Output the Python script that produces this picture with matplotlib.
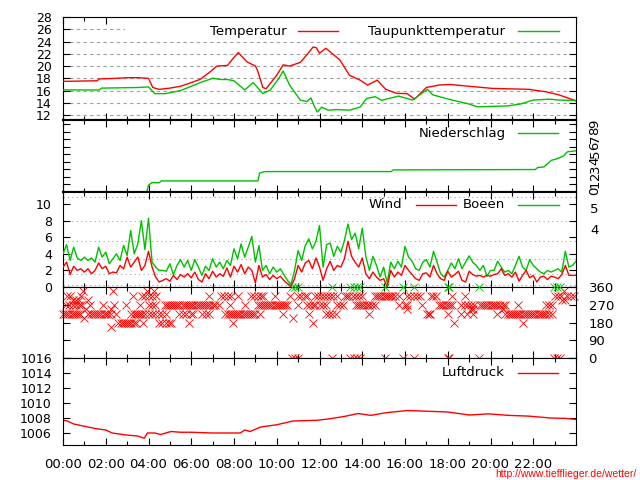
import matplotlib
matplotlib.use("Agg")
import matplotlib.pyplot as plt
from matplotlib.ticker import MultipleLocator, FixedLocator, FuncFormatter
from matplotlib.patches import Rectangle
from matplotlib.lines import Line2D
import numpy as np

RED = '#ff0000'
GREEN = '#00c000'
GRID = '#a0a0a0'

# --- data (hours since 00:00) ---
temp_h = [0.0, 1.6, 1.7, 2.5, 3.0, 3.5, 4.0, 4.2, 4.5, 5.0, 5.5, 6.0, 6.4, 6.9, 7.2,
          7.7, 7.9, 8.2, 8.6, 9.0, 9.1, 9.35, 9.5, 10.0, 10.3, 10.6, 11.1, 11.4, 11.7,
          11.85, 12.0, 12.3, 12.95, 13.4, 13.9, 14.25, 14.7, 15.1, 15.6, 16.1, 16.45,
          17.0, 17.6, 18.1, 19.0, 20.1, 21.8, 22.6, 23.2, 23.9, 24.0]
temp_v = [17.5, 17.6, 17.9, 18.0, 18.1, 18.1, 18.0, 16.5, 16.2, 16.4, 16.7, 17.3, 17.8,
          19.1, 20.0, 20.1, 21.0, 22.2, 20.7, 20.0, 19.3, 16.5, 16.3, 18.5, 20.2, 20.0,
          20.6, 21.8, 23.1, 23.0, 22.1, 22.9, 21.0, 18.5, 17.7, 16.9, 17.7, 16.2, 15.55,
          15.5, 14.6, 16.5, 16.9, 17.0, 16.7, 16.35, 16.2, 15.8, 15.3, 14.45, 14.3]

dew_h = [0.0, 1.7, 1.8, 3.5, 4.0, 4.3, 4.8, 5.5, 6.5, 7.0, 7.4, 7.7, 8.0, 8.5, 8.9,
         9.35, 9.7, 10.1, 10.3, 10.6, 11.1, 11.4, 11.6, 11.75, 11.9, 12.1, 12.4, 12.8,
         13.4, 13.9, 14.2, 14.6, 14.9, 15.7, 16.35, 17.05, 17.3, 18.2, 18.9, 19.4,
         20.8, 21.4, 22.0, 22.8, 23.2, 24.0]
dew_v = [16.1, 16.1, 16.4, 16.5, 16.6, 15.5, 15.5, 16.0, 17.4, 18.0, 17.8, 17.8, 17.6,
         16.1, 17.3, 15.5, 16.1, 18.0, 19.2, 16.9, 14.45, 14.2, 14.8, 13.5, 12.5, 13.3,
         12.8, 12.9, 12.8, 13.3, 14.7, 15.0, 14.4, 15.1, 14.45, 16.2, 15.3, 14.45, 13.9,
         13.35, 13.5, 13.8, 14.45, 14.6, 14.45, 14.4]

rain_h = [0.0, 3.92, 4.0, 4.15, 4.5, 4.6, 9.12, 9.2, 9.46, 15.35, 15.45, 22.1, 22.2,
          22.5, 22.85, 23.1, 23.4, 23.6, 24.0]
rain_v = [0.0, 0.0, 0.89, 1.24, 1.24, 1.47, 1.47, 2.53, 2.71, 2.71, 2.93, 2.98, 3.24,
          3.33, 4.2, 4.4, 4.75, 5.33, 5.47]

wind_h = np.arange(0, 24.01, 1 / 6)
gust_v = [4.0, 5.1, 3.2, 4.8, 3.5, 3.2, 3.6, 3.2, 3.5, 3.0, 4.8, 3.6,
          4.2, 2.8, 3.4, 4.0, 3.2, 5.0, 3.8, 6.8, 4.0, 5.2, 8.0, 4.5,
          8.3, 3.0, 2.4, 2.0, 2.0, 1.9, 2.8, 1.5, 2.6, 3.3, 2.4, 3.2,
          2.0, 3.3, 2.4, 1.4, 2.5, 2.0, 3.4, 2.4, 3.0, 2.2, 3.2, 2.6,
          4.6, 3.4, 5.2, 3.6, 4.8, 6.1, 3.0, 5.0, 2.0, 2.6, 1.6, 2.4,
          1.8, 2.2, 1.5, 0.8, 0.3, 2.0, 4.4, 3.2, 5.0, 5.8, 4.6, 5.5,
          7.4, 2.4, 5.1, 5.3, 3.7, 4.9, 4.2, 5.6, 7.6, 5.7, 6.5, 4.6,
          7.1, 3.7, 2.0, 3.7, 2.6, 1.2, 2.4, 0.5, 3.0, 2.2, 3.1, 2.4,
          4.9, 3.6, 3.1, 2.2, 2.0, 3.0, 3.3, 2.4, 4.3, 3.0, 1.6, 1.2,
          2.0, 2.9, 2.2, 3.4, 2.2, 3.0, 3.75, 3.0, 2.6, 2.0, 2.6, 1.3,
          2.0, 2.0, 3.1, 2.4, 1.8, 2.0, 1.6, 2.6, 3.7, 2.4, 2.0, 3.3,
          2.6, 2.2, 1.8, 1.6, 2.0, 1.8, 2.0, 2.2, 1.8, 4.3, 2.4, 2.6, 3.1]
wind_v = [2.4, 3.0, 1.5, 2.5, 2.0, 2.2, 1.8, 2.2, 1.6, 2.0, 2.9, 2.2,
          2.5, 1.6, 1.8, 1.7, 2.6, 2.2, 3.6, 2.4, 3.0, 3.6, 2.0, 2.6,
          4.3, 2.4, 1.2, 0.6, 0.8, 1.0, 0.7, 1.4, 0.9, 1.5, 1.2, 1.6,
          1.1, 1.8, 0.9, 0.6, 1.6, 1.0, 1.9, 1.2, 1.6, 1.3, 2.3, 1.2,
          2.5, 1.8, 2.7, 1.6, 2.4, 2.0, 0.5, 2.6, 1.2, 1.5, 0.9, 1.4,
          1.0, 1.3, 0.8, 0.4, 0.0, 1.0, 2.6, 1.8, 2.9, 3.2, 2.2, 3.5,
          2.4, 0.8, 2.2, 3.1, 2.0, 2.6, 2.4, 3.4, 5.5, 3.7, 3.0, 2.4,
          3.5, 1.6, 1.0, 1.8, 1.2, 0.8, 1.0, 0.0, 2.0, 1.2, 1.8, 1.4,
          2.6, 2.0, 1.5, 1.0, 0.8, 1.6, 1.7, 1.2, 2.6, 1.6, 1.0, 0.8,
          1.9, 1.2, 1.5, 1.9, 0.8, 0.6, 1.9, 1.5, 1.3, 1.4, 1.2, 1.4,
          1.3, 1.5, 1.6, 2.2, 1.4, 1.6, 1.2, 1.8, 0.7, 1.4, 2.0, 1.1,
          1.4, 0.6, 1.2, 1.3, 0.9, 1.3, 1.2, 1.0, 1.5, 2.6, 1.4, 1.4, 1.4]
bft_limits = [0.3, 1.6, 3.4, 5.5, 8.0, 10.8]
bft_labels = {4: 6.75, 5: 9.4}

# wind direction: hours at which a cross sits in each 22.5 degree row
dir_337 = [0.93, 2.34, 3.95, 4.25, 23.45]
dir_315 = [0.2, 0.35, 0.86, 3.27, 3.7, 3.85, 4.0, 4.15, 4.35, 6.85, 7.4, 7.55, 7.7, 7.85,
           8.2, 8.8, 8.95, 9.1, 9.25, 9.35, 9.9, 10.6, 11.0, 11.15, 11.3, 11.4, 11.8,
           11.95, 12.05, 12.2, 12.35, 12.5, 12.65, 12.8, 13.2, 13.3, 13.4, 13.55, 13.7,
           13.85, 14.0, 14.6, 14.7, 14.8, 14.9, 15.0, 15.1, 15.2, 15.3, 15.4, 15.55,
           15.7, 16.1, 16.25, 16.4, 16.55, 16.7, 17.2, 17.3, 17.45, 18.2, 18.8, 23.0,
           23.15, 23.3, 23.6, 23.75, 23.9]
dir_292 = [0.45, 0.6, 0.75, 1.15, 23.35, 23.5]
dir_270 = [0.16, 0.3, 0.45, 0.6, 0.75, 0.86, 1.25, 1.87, 2.4, 2.96, 3.6, 4.0, 4.15, 4.3,
           4.75, 4.85, 4.95, 5.05, 5.15, 5.25, 5.35, 5.45, 5.6, 5.7, 5.8, 5.9, 6.0, 6.1,
           6.2, 6.3, 6.4, 6.5, 6.6, 6.7, 6.8, 6.9, 7.0, 7.1, 7.3, 7.8, 8.5, 9.1, 9.2,
           9.3, 9.4, 9.5, 9.6, 9.7, 9.8, 9.9, 10.0, 10.1, 10.2, 10.3, 10.4, 10.5, 11.0,
           11.4, 11.55, 11.7, 11.8, 12.0, 12.15, 12.3, 12.8, 12.95, 13.1, 13.7, 13.8,
           13.9, 14.0, 14.1, 14.2, 14.3, 14.45, 14.6, 15.7, 16.0, 16.1, 16.8, 17.6,
           17.7, 17.8, 17.9, 18.0, 18.1, 18.2, 18.6, 18.8, 18.95, 19.1, 19.25, 19.5,
           19.6, 19.7, 19.8, 19.9, 20.0, 20.1, 20.2, 20.3, 20.45, 20.6, 20.7, 21.3,
           22.6, 22.75, 22.9]
dir_247 = [1.06, 2.26, 16.1, 19.1, 19.2, 20.6]
dir_225 = [0.0, 0.1, 0.2, 0.3, 0.4, 0.5, 0.6, 0.7, 0.8, 1.17, 1.3, 1.4, 1.5, 1.6, 1.7,
           1.8, 1.9, 2.0, 2.1, 2.26, 2.5, 3.2, 3.3, 3.4, 3.5, 3.6, 3.7, 3.85, 4.0, 4.15,
           4.3, 4.5, 4.65, 4.8, 5.45, 5.6, 5.75, 6.0, 6.1, 6.5, 6.7, 6.85, 7.6, 7.7,
           7.8, 7.9, 8.0, 8.1, 8.2, 8.3, 8.4, 8.5, 8.6, 8.7, 8.8, 8.9, 9.0, 9.2, 10.3,
           11.5, 12.3, 12.45, 12.6, 12.75, 14.3, 17.05, 17.1, 17.15, 18.0, 18.6, 18.9,
           19.2, 20.3, 20.7, 20.8, 20.9, 21.0, 21.1, 21.2, 21.3, 21.4, 21.5, 21.6, 21.7,
           21.8, 21.9, 22.0, 22.1, 22.2, 22.3, 22.4, 22.5, 22.6, 22.75, 22.9]
dir_202 = [1.0, 10.75]
dir_180 = [2.57, 2.7, 2.8, 2.9, 3.0, 3.1, 3.2, 3.3, 3.43, 3.74, 4.5, 4.65, 4.8, 4.95,
           5.06, 5.9, 7.94, 11.7, 18.3, 21.5]
dir_157 = [2.26]
calm_h = [10.7, 10.85, 11.0, 12.6, 13.45, 13.6, 13.75, 13.9, 15.05, 15.9, 16.4, 18.0,
          18.05, 19.45, 22.95, 23.1, 23.25]

press_h = [0.0, 0.2, 0.5, 1.0, 1.5, 2.0, 2.3, 2.9, 3.5, 3.8, 3.95, 4.3, 4.57, 5.05, 5.5,
           6.0, 7.0, 8.3, 8.5, 8.75, 9.25, 10.0, 10.76, 11.9, 12.5, 13.24, 13.8, 14.4,
           15.1, 16.1, 17.05, 18.0, 19.0, 19.9, 20.85, 21.8, 22.8, 23.5, 24.0]
press_v = [1007.7, 1007.6, 1007.2, 1006.9, 1006.6, 1006.4, 1006.0, 1005.75, 1005.6,
           1005.3, 1006.0, 1006.0, 1005.8, 1006.2, 1006.1, 1006.1, 1006.0, 1006.0, 1006.4,
           1006.2, 1006.8, 1007.1, 1007.6, 1007.7, 1007.9, 1008.25, 1008.6, 1008.35,
           1008.7, 1009.0, 1008.9, 1008.8, 1008.4, 1008.55, 1008.35, 1008.25, 1008.0,
           1007.95, 1007.8]

hour_labels = ['%02d:00' % h for h in range(0, 24, 2)]

# --- figure ---
plt.rcParams['font.family'] = 'DejaVu Sans'
plt.rcParams['font.size'] = 9
fig = plt.figure(figsize=(6.4, 4.8), dpi=100)


def panel(top, bottom):
    ax = fig.add_axes([63 / 640, 1 - bottom / 480, 513 / 640, (bottom - top) / 480])
    ax.set_xlim(0, 24)
    ax.xaxis.set_major_locator(MultipleLocator(2))
    ax.xaxis.set_minor_locator(MultipleLocator(1))
    ax.tick_params(which='both', direction='in', top=True, right=True, width=0.8,
                   labelbottom=False, pad=8, labelsize=9)
    ax.tick_params(which='major', length=5)
    ax.tick_params(which='minor', length=3)
    for s in ax.spines.values():
        s.set_linewidth(0.8)
    return ax


def key(y_px, text_right, label, x0, x1, color):
    fig.text(text_right / 640, 1 - y_px / 480, label, ha='right', va='center', fontsize=9.5)
    fig.add_artist(Line2D([x0 / 640, x1 / 640], [1 - y_px / 480] * 2, color=color, lw=1))


# Temperature
ax1 = panel(17, 120)
ax1.set_ylim(11.2, 28)
ax1.yaxis.set_major_locator(MultipleLocator(2))
for v in range(12, 29, 2):
    ax1.axhline(v, color=GRID, lw=0.8, ls=(0, (3, 3)), zorder=1)
ax1.add_patch(Rectangle((2.9, 25.0), 21.1, 3.0, fc='white', ec='none', zorder=2))
ax1.plot(temp_h, temp_v, color=RED, lw=1, zorder=3)
ax1.plot(dew_h, dew_v, color=GREEN, lw=1, zorder=3)
ax1.spines['bottom'].set_linewidth(1.5)
key(31, 287, 'Temperatur', 298, 338, RED)
key(31, 505, 'Taupunkttemperatur', 518, 559, GREEN)

# Precipitation
ax2 = panel(120, 192)
ax2.set_ylim(0, 9.55)
ax2.yaxis.set_major_locator(MultipleLocator(1))
ax2.tick_params(axis='y', labelleft=False, labelright=True, labelrotation=90,
                labelsize=9.5, pad=9)
ax2.plot(rain_h, rain_v, color=GREEN, lw=1)
ax2.spines['top'].set_linewidth(1.5)
ax2.spines['bottom'].set_linewidth(1.5)
key(133, 506, 'Niederschlag', 518, 558, GREEN)

# Wind
ax3 = panel(192, 287)
ax3.set_ylim(0, 11.45)
ax3.yaxis.set_major_locator(FixedLocator([0, 2, 4, 6, 8, 10]))
for v in bft_limits:
    ax3.axhline(v, color=GRID, lw=0.8, ls=(0, (1, 3)), zorder=1)
ax3.plot(wind_h, gust_v, color=GREEN, lw=1, zorder=3)
ax3.plot(wind_h, wind_v, color=RED, lw=1, zorder=3)
for b, v in bft_labels.items():
    ax3.text(1 + 14 / 513, v, str(b), transform=ax3.get_yaxis_transform(),
             ha='left', va='center', fontsize=9.5)
ax3.spines['top'].set_linewidth(1.5)
key(205, 402, 'Wind', 416, 456, RED)
key(205, 505, 'Boeen', 518, 559, GREEN)

# Wind direction
ax4 = panel(287, 358)
ax4.set_ylim(0, 360)
ax4.yaxis.set_major_locator(MultipleLocator(90))
ax4.tick_params(axis='y', labelleft=False, labelright=True, pad=9, labelsize=9.5)
for deg, hours in [(337.5, dir_337), (315, dir_315), (292.5, dir_292), (270, dir_270),
                   (247.5, dir_247), (225, dir_225), (202.5, dir_202), (180, dir_180),
                   (157.5, dir_157)]:
    ax4.plot(hours, [deg] * len(hours), ls='none', marker='x', ms=5.5, mew=0.6,
             color=RED, clip_on=False)
ax4.plot(calm_h, [0] * len(calm_h), ls='none', marker='x', ms=5.5, mew=0.6,
         color=RED, clip_on=False, zorder=5)
ax4.plot(calm_h, [360] * len(calm_h), ls='none', marker='x', ms=5.5, mew=0.6,
         color=GREEN, clip_on=False, zorder=5)

# Pressure
ax5 = panel(358, 445)
ax5.set_ylim(1004.4, 1016)
ax5.yaxis.set_major_locator(MultipleLocator(2))
ax5.plot(press_h, press_v, color=RED, lw=1)
ax5.xaxis.set_major_locator(FixedLocator(list(range(0, 24, 2))))
ax5.xaxis.set_major_formatter(FuncFormatter(lambda x, p: hour_labels[int(round(x)) // 2]))
ax5.tick_params(axis='x', which='major', labelbottom=True, pad=9, labelsize=9.5)
key(373, 505, 'Luftdruck', 518, 558, RED)

fig.text(637 / 640, 1 / 480, 'http://www.tiefflieger.de/wetter/', color=RED,
         fontsize=7.5, family='Liberation Sans', ha='right', va='bottom')

fig.savefig('out.png', dpi=100)
